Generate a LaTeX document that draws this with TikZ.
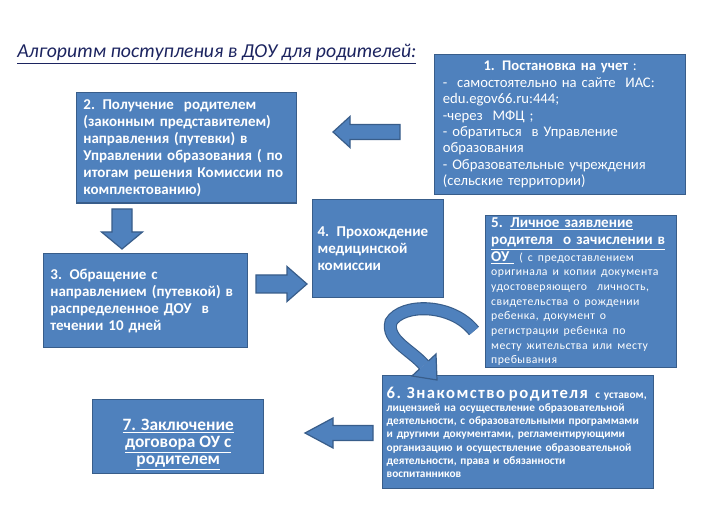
\documentclass[tikz,border=0pt]{standalone}
\usepackage{fontspec}
\setmainfont{Carlito}
\usetikzlibrary{calc}

\definecolor{boxblue}{RGB}{79,129,189}
\definecolor{boxline}{RGB}{56,93,138}
\definecolor{titlenavy}{RGB}{28,36,96}

\tikzset{
  box/.style={draw=boxline, fill=boxblue, line width=1.1pt, text=white,
    anchor=north west, align=left, inner sep=5pt,
    font=\bfseries\fontsize{11.25}{12.75}\selectfont},
  blockarrow/.style={draw=boxline, fill=boxblue, line width=0.9pt, line join=miter},
  bandedge/.style={draw=boxline, line width=9.8pt},
  bandfill/.style={draw=boxblue, line width=8.1pt},
}

\begin{document}
\begin{tikzpicture}[x=0.75pt, y=-0.75pt]
    \useasboundingbox[fill=white] (0,0) rectangle (708,524);

    % title
    \node[anchor=base west, text=titlenavy, inner sep=0pt,
      font=\itshape\fontsize{14.8}{16}\selectfont] (title) at (17,58)
      {\underline{Алгоритм поступления в ДОУ для родителей:}};

    % steps
    \node[box, minimum width=188.25pt, minimum height=99pt, text width=176pt,
      font=\fontsize{11}{12.3}\selectfont] (reg) at (434,54)
      {\makebox[\hsize]{\textbf{1. Постановка на учет} :}\\
       -\ \ самостоятельно на сайте\ \ ИАС:\\
       edu.egov66.ru:444;\\
       -через\ \ МФЦ ;\\
       - обратиться\ \ в Управление\\
       образования\\
       - Образовательные учреждения\\
       (сельские территории)};
    \node[box, minimum width=165pt, minimum height=78pt, text width=155pt] (ticket) at (76,92)
      {2. Получение\ \ родителем\\
       (законным представителем)\\
       направления (путевки) в\\
       Управлении образования (\ по\\
       итогам решения Комиссии по\\
       комплектованию)};
    \node[box, minimum width=153pt, minimum height=70.5pt, text width=143pt] (visit) at (43,253)
      {3. Обращение с\\
       направлением (путевкой) в\\
       распределенное ДОУ\ \ в\\
       течении 10 дней};
    \node[box, minimum width=98.25pt, minimum height=73.5pt, text width=91pt, inner sep=2.5pt] (med) at (312,199)
      {4. Прохождение\\
       медицинской\\
       комиссии};
    \node[box, minimum width=143.25pt, minimum height=114pt, text width=135pt,
      inner xsep=4pt, inner ysep=0.5pt,
      font=\bfseries\fontsize{11.3}{13}\selectfont] (appl) at (485,215)
      {5. \underline{Личное заявление}\\
       \underline{родителя\ \ о зачислении в}\\
       \underline{ОУ\ }\ {\mdseries\fontsize{8.8}{11}\selectfont\addfontfeatures{LetterSpace=4}( с предоставлением\\
       оригинала и копии документа\\
       удостоверяющего\ \ личность,\\
       свидетельства о рождении\\
       ребенка, документ о\\
       регистрации ребенка по\\
       месту жительства или месту\\
       пребывания\par}};
    \node[box, minimum width=202.5pt, minimum height=84.75pt, text width=197pt, inner sep=3pt,
      font=\bfseries\fontsize{8.5}{9.9}\selectfont] (intro) at (382,375)
      {{\fontsize{12.5}{14}\selectfont\addfontfeatures{LetterSpace=9}6. Знакомство родителя}\ \ с уставом,\\
       лицензией на осуществление образовательной\\
       деятельности, с образовательными программами\\
       и другими документами, регламентирующими\\
       организацию и осуществление образовательной\\
       деятельности, права и обязанности\\
       воспитанников};
    \node[box, minimum width=128.25pt, minimum height=55.5pt, align=center, inner sep=2pt,
      font=\bfseries\fontsize{13}{12.8}\selectfont] (contract) at (92,399)
      {\rule{0pt}{20pt}\underline{7. Заключение}\\
       \underline{договора ОУ с}\\
       \underline{родителем}};

    % block arrows: tip x / tip y / angle / length / head / shaft / head width
    \foreach \tx/\ty/\rot/\len/\hl/\sw/\hw in {333/132/180/67/17/7.5/15.5,
        122/249/-90/40/17/10/20.5, 307/284/0/51/20/9/17.5, 305/433/180/68/28/7.5/15}{
      \draw[blockarrow, shift={(\tx,\ty)}, rotate=\rot]
        (0,0) -- (-\hl,-\hw) -- (-\hl,-\sw) -- (-\len,-\sw)
        -- (-\len,\sw) -- (-\hl,\sw) -- (-\hl,\hw) -- cycle;
    }

    % curved arrow from 5 to 6
    \coordinate (bandstart) at (474,331);
    \coordinate (bandend) at (424,365);
    \foreach \look in {bandedge, bandfill}{
      \draw[\look] (bandstart) .. controls (452,303) and (402,303) .. (391,322)
        .. controls (386,340) and (411,350) .. (bandend);
    }
    \fill[boxblue] (419.5,369) -- (412,376) -- (437,380) -- (436,354) -- (428.5,361) -- cycle;
    \draw[boxline, line width=0.9pt, line join=miter]
      (419.5,369) -- (412,376) -- (437,380) -- (436,354) -- (428.5,361);
\end{tikzpicture}
\end{document}
